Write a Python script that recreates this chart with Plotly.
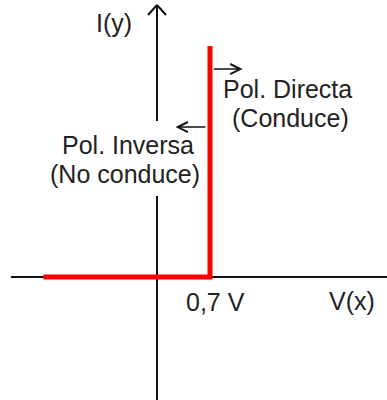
import plotly.graph_objects as go

# ---- data: ideal diode characteristic ----
v_values = [-1.5, 0.7, 0.7]      # V (x)
i_values = [0, 0, 10]            # I (y), arbitrary units
threshold_label = "0,7 V"
x_label = "V(x)"
y_label = "I(y)"
direct_text = ["Pol. Directa", "(Conduce)"]
inverse_text = ["Pol. Inversa", "(No conduce)"]

X_RANGE = [-2.0736, 3.0378]
Y_RANGE = [-5.325, 11.991]

FONT = dict(family="Liberation Sans, Arial, sans-serif", size=25, color="#222222")
AXIS_COLOR = "#111111"

fig = go.Figure()
fig.add_trace(go.Scatter(
    x=v_values, y=i_values, mode="lines",
    line=dict(color="#ff0000", width=5),
    hoverinfo="skip", showlegend=False,
))

Y_TIP = 11.775
HEAD_DX = 0.119
HEAD_DY = 0.433
axis_line = dict(color=AXIS_COLOR, width=2)
shapes = [
    # horizontal axis
    dict(type="line", xref="x", yref="y", x0=-1.93, x1=3.2, y0=0, y1=0,
         line=axis_line, layer="below"),
    # lower part of vertical axis (interrupted by the label)
    dict(type="line", xref="x", yref="y", x0=0, x1=0, y0=-6, y1=3.51,
         line=axis_line, layer="below"),
    # upper part of vertical axis
    dict(type="line", xref="x", yref="y", x0=0, x1=0, y0=6.75, y1=Y_TIP,
         line=axis_line, layer="below"),
    # arrow head of vertical axis
    dict(type="line", xref="x", yref="y", x0=-HEAD_DX, x1=0,
         y0=Y_TIP - HEAD_DY, y1=Y_TIP, line=axis_line, layer="below"),
    dict(type="line", xref="x", yref="y", x0=HEAD_DX, x1=0,
         y0=Y_TIP - HEAD_DY, y1=Y_TIP, line=axis_line, layer="below"),
]

annotations = []
# small arrow: direct polarization (to the right)
annotations.append(dict(x=1.13, y=9.0, ax=0.73, ay=9.0, xref="x", yref="y",
                        axref="x", ayref="y", text="", showarrow=True,
                        arrowhead=5, arrowsize=1.33, arrowwidth=1.5,
                        arrowcolor=AXIS_COLOR))
# small arrow: inverse polarization (to the left)
annotations.append(dict(x=0.245, y=6.49, ax=0.66, ay=6.49, xref="x", yref="y",
                        axref="x", ayref="y", text="", showarrow=True,
                        arrowhead=5, arrowsize=1.33, arrowwidth=1.5,
                        arrowcolor=AXIS_COLOR))

def label(txt, x, y):
    annotations.append(dict(x=x, y=y, xref="x", yref="y", text=txt,
                            showarrow=False, font=FONT, borderpad=0,
                            xanchor="center", yanchor="middle"))

label(y_label, -0.5745, 10.974)
label(direct_text[0], 1.7236, 8.139)
label(direct_text[1], 1.7566, 6.883)
label(inverse_text[0], -0.383, 5.714)
label(inverse_text[1], -0.4226, 4.459)
label(threshold_label, 0.7726, -1.082)
label(x_label, 2.569, -1.039)

fig.update_layout(
    width=387, height=400,
    margin=dict(l=0, r=0, t=0, b=0),
    paper_bgcolor="white", plot_bgcolor="white",
    xaxis=dict(range=X_RANGE, visible=False, fixedrange=True),
    yaxis=dict(range=Y_RANGE, visible=False, fixedrange=True),
    shapes=shapes, annotations=annotations,
    showlegend=False,
)

fig.write_html("out.html", config={"displayModeBar": False},
               post_script="document.body.style.margin='0';")
